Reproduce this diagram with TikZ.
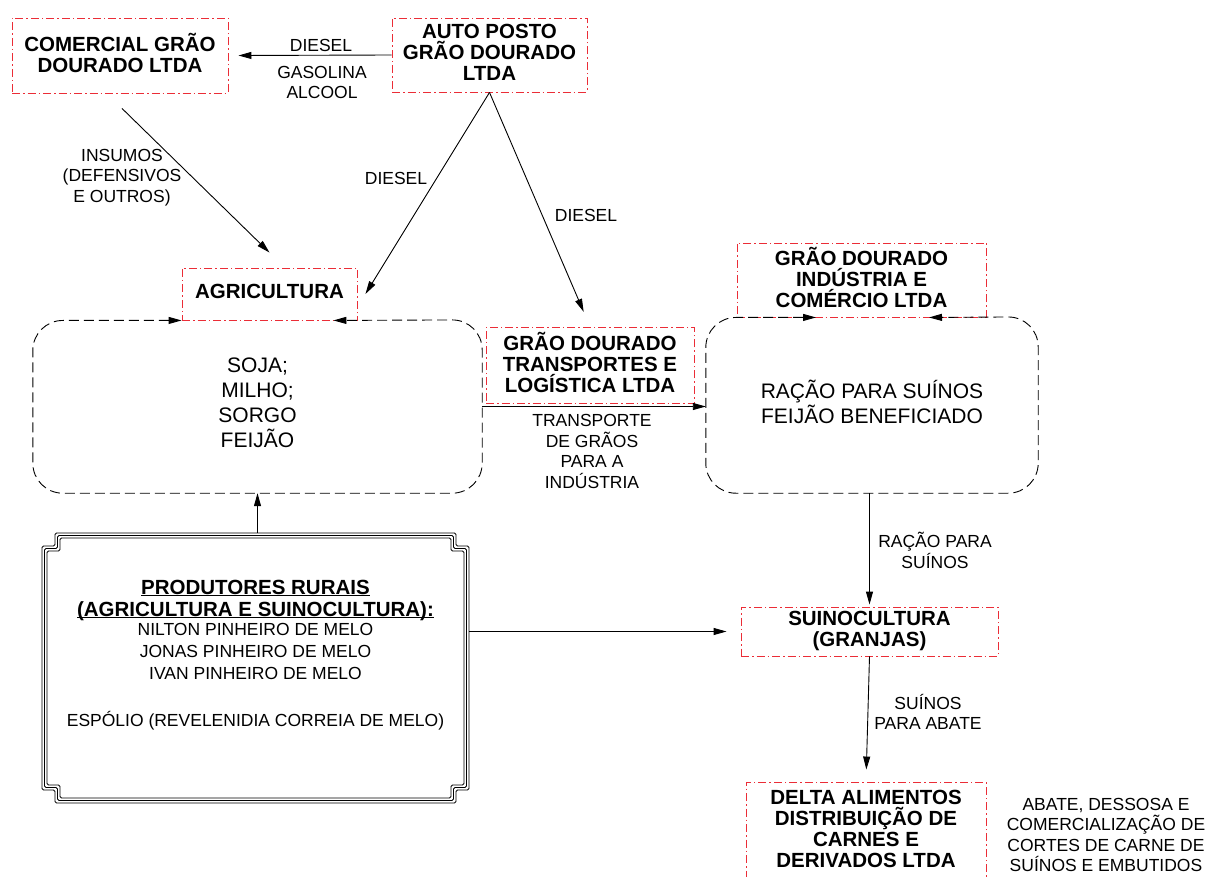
\documentclass[tikz,border=0pt]{standalone}
\usepackage{fontspec}
\setmainfont{Liberation Sans}
\usetikzlibrary{arrows.meta}
\definecolor{firmred}{RGB}{235,45,55}
\begin{document}
\begin{tikzpicture}[x=1pt,y=-1pt,
  firm/.style={draw=firmred,line width=0.9pt,dash pattern=on 8pt off 3pt on 1.5pt off 3pt,
    align=center,inner sep=0pt,text depth=5pt,font=\fontsize{20.5}{21}\selectfont\bfseries},
  area/.style={align=center,inner sep=0pt,text depth=7pt,font=\fontsize{21}{25}\selectfont},
  area line/.style={line width=0.9pt,dash pattern=on 10pt off 5pt,rounded corners=30pt,
    {Triangle[length=13pt,width=7pt]}-{Triangle[length=13pt,width=7pt]}},
  flow/.style={line width=0.9pt,-{Triangle[length=13pt,width=7pt]}},
  lbl/.style={align=center,inner sep=0pt,font=\fontsize{17.5}{20.5}\selectfont}]
\useasboundingbox (0,0) rectangle (1208,877);

\node[firm,minimum width=216pt,minimum height=75pt] (com) at (120,55.5) {COMERCIAL GRÃO\\DOURADO LTDA};
\node[firm,minimum width=195pt,minimum height=74pt] (posto) at (489.5,55) {AUTO POSTO\\GRÃO DOURADO\\LTDA};
\node[firm,minimum width=175pt,minimum height=52pt] (agri) at (269.5,294) {AGRICULTURA};
\node[firm,minimum width=208pt,minimum height=76pt] (trans) at (590,365) {GRÃO DOURADO\\TRANSPORTES E\\LOGÍSTICA LTDA};
\node[firm,minimum width=249pt,minimum height=74pt] (ind) at (861.5,280) {GRÃO DOURADO\\INDÚSTRIA E\\COMÉRCIO LTDA};
\node[firm,minimum width=257pt,minimum height=49pt] (suino) at (869.5,631.5) {SUINOCULTURA\\(GRANJAS)};
\node[firm,minimum width=240pt,minimum height=98pt] (delta) at (866,831) {DELTA ALIMENTOS\\DISTRIBUIÇÃO DE\\CARNES E\\DERIVADOS LTDA};

\node[area,minimum width=449pt,minimum height=173pt] (crops) at (257.5,406.5) {SOJA;\\MILHO;\\SORGO\\FEIJÃO};
\node[area,minimum width=332pt,minimum height=176pt] (feed) at (872,405) {RAÇÃO PARA SUÍNOS\\FEIJÃO BENEFICIADO};
\coordinate (agriR) at ([xshift=-24pt]agri.south east);
\coordinate (indL) at ([xshift=-45.5pt]ind.south);
\coordinate (indR) at ([xshift=67.5pt]ind.south);
\draw[area line] (agri.south west) -| (crops.south west) -| (crops.north east) -- (agriR);
\draw[area line] (indL) -| (feed.south west) -| (feed.north east) -- (indR);

\node[minimum width=427pt,minimum height=270pt,inner sep=0pt] (prod) at (255.5,668) {};
\foreach \o in {0,2.5,5} {
\draw[line width=0.8pt,rounded corners=1.5pt]
  ({55+\o},{533+\o}) -- ({456-\o},{533+\o}) -- ({456-\o},{546+\o}) -- ({469-\o},{546+\o})
  -- ({469-\o},{790-\o}) -- ({456-\o},{790-\o}) -- ({456-\o},{803-\o}) -- ({55+\o},{803-\o})
  -- ({55+\o},{790-\o}) -- ({42+\o},{790-\o}) -- ({42+\o},{546+\o}) -- ({55+\o},{546+\o}) -- cycle;
}
\node[align=center,inner sep=0pt,font=\fontsize{17.5}{22}\selectfont] (prodtxt) at (255.5,654.7)
  {{\fontsize{20.5}{22}\selectfont\bfseries\underline{PRODUTORES RURAIS}}\\
   {\fontsize{20.5}{22}\selectfont\bfseries\underline{\smash{(AGRICULTURA E SUINOCULTURA):}}}\\[-3pt]
   NILTON PINHEIRO DE MELO\\JONAS PINHEIRO DE MELO\\IVAN PINHEIRO DE MELO\\[25pt]
   ESPÓLIO (REVELENIDIA CORREIA DE MELO)};

\draw[flow] (posto.west) -- ([xshift=10pt]com.east);
\draw[flow] ([xshift=2pt,yshift=-15pt]com.south) -- ([yshift=15pt]agri.north);
\draw[flow] (posto.south) -- ([xshift=8pt]agri.east);
\draw[flow,shorten >=16pt] (posto.south) -- (trans.north);
\draw[flow] (crops.east) -- (crops.east -| feed.west);
\draw[flow] (crops.south |- prod.north) -- (crops.south);
\draw[flow,shorten >=14pt] (prod.east |- suino.west) -- (suino.west);
\draw[flow,shorten >=2pt] (suino.north |- feed.south) -- (suino.north);
\draw[flow,shorten >=12pt] (suino.south) -- (delta.north);

\node[lbl] (l1) at (321,45) {DIESEL};
\node[lbl] (l2) at (322,82.5) {GASOLINA\\ALCOOL};
\node[lbl] (l3) at (122,177.5) {INSUMOS\\(DEFENSIVOS\\E OUTROS)};
\node[lbl] (l4) at (396,178) {DIESEL};
\node[lbl] (l5) at (586,215) {DIESEL};
\node[lbl] (l6) at (592,451.5) {TRANSPORTE\\DE GRÃOS\\PARA A\\INDÚSTRIA};
\node[lbl] (l7) at (935,550.5) {RAÇÃO PARA\\SUÍNOS};
\node[lbl] (l8) at (928,712) {SUÍNOS\\PARA ABATE};
\node[lbl] (l9) at (1106,835) {ABATE, DESSOSA E\\COMERCIALIZAÇÃO DE\\CORTES DE CARNE DE\\SUÍNOS E EMBUTIDOS};
\end{tikzpicture}
\end{document}
